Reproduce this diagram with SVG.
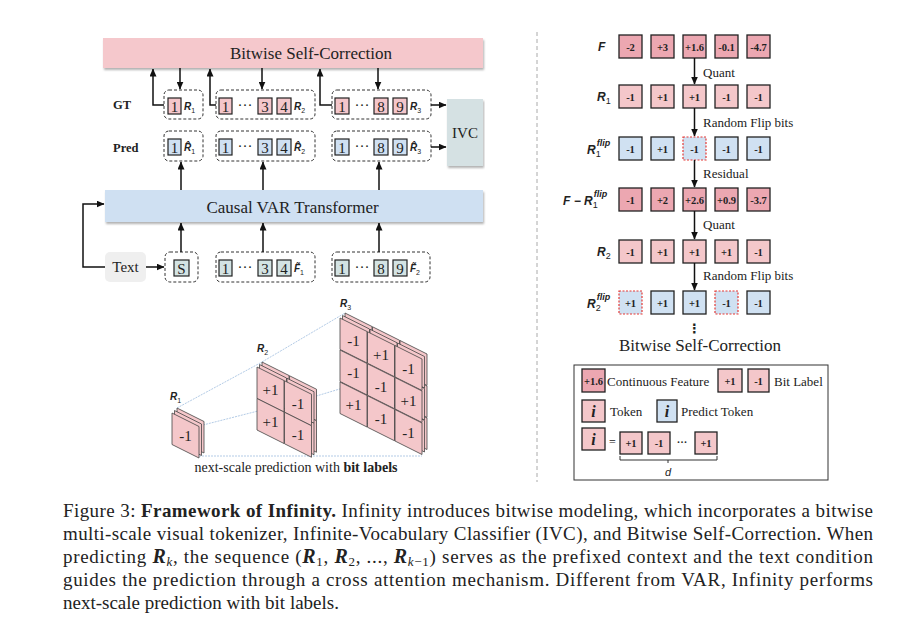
<svg xmlns="http://www.w3.org/2000/svg" width="923" height="636" viewBox="0 0 923 636">
<defs>
<marker id="ah" markerWidth="8" markerHeight="7" refX="7.5" refY="3.5" orient="auto" markerUnits="userSpaceOnUse"><path d="M0,0 L8,3.5 L0,7 z" fill="#111"/></marker>
<filter id="sh" x="-5%" y="-20%" width="110%" height="160%"><feDropShadow dx="1" dy="2" stdDeviation="1.2" flood-color="#000" flood-opacity="0.3"/></filter>
<path id="card" d="M0,0 L27,13.5 L27,45 L0,31.5 z"/>
<style>
.s{font-family:"Liberation Serif",serif;fill:#222}
.lab{font-family:"Liberation Sans",sans-serif;font-weight:bold;font-style:italic;fill:#222}
.sb{font-weight:normal;font-style:normal}
.bx{stroke:#222;stroke-width:1.2}
.gt{fill:#f4c6ca}
.pr{fill:#cfe0f2}
.tk{fill:#d3e3e3}
.grp{fill:none;stroke:#333;stroke-width:1;stroke-dasharray:3 2}
.arr{stroke:#111;stroke-width:1.5;fill:none;marker-end:url(#ah)}
.dg{font-family:"Liberation Serif",serif;font-size:15px;text-anchor:middle;fill:#222}
.fb{fill:#eca7b1;stroke:#222;stroke-width:1.3}
.rb{fill:#f4c7ca;stroke:#222;stroke-width:1.3}
.bb{fill:#d0e1f2;stroke:#222;stroke-width:1.3}
.fl{fill:#d0e1f2;stroke:#e53935;stroke-width:1.2;stroke-dasharray:2 1.5}
.v{font-family:"Liberation Serif",serif;font-weight:bold;font-size:10.5px;text-anchor:middle;fill:#222}
.cd{fill:#f4c7ca;stroke:#444;stroke-width:0.8}
.ct{font-family:"Liberation Serif",serif;font-size:15px;text-anchor:middle;fill:#222}
.dl{stroke:#b3cbe6;stroke-width:1;fill:none;stroke-dasharray:2 1}
.cap{font-family:"Liberation Serif",serif;font-size:19px;fill:#222}
</style>
</defs>
<rect width="923" height="636" fill="#fff"/>

<!-- separator -->
<line x1="537" y1="32" x2="537" y2="482" stroke="#aaa" stroke-width="1" stroke-dasharray="4 3"/>

<g id="bsc-bar">
<rect x="103" y="38" width="380" height="30" fill="#f5c8cc" filter="url(#sh)"/>
<text class="s" x="311" y="59" font-size="17" text-anchor="middle">Bitwise Self-Correction</text>
</g>
<g id="var-bar">
<rect x="105" y="190" width="378" height="32" fill="#cfe0f2" filter="url(#sh)"/>
<text class="s" x="292.5" y="213" font-size="17" text-anchor="middle">Causal VAR Transformer</text>
</g>
<g id="ivc">
<rect x="447" y="99" width="36" height="67" fill="#d5e1e3" filter="url(#sh)"/>
<text class="s" x="465" y="138" font-size="15" text-anchor="middle">IVC</text>
</g>
<g id="row-labels">
<text class="s" x="113" y="109" font-size="12.5" font-weight="bold">GT</text>
<text class="s" x="113" y="152" font-size="12.5" font-weight="bold">Pred</text>
</g>

<!-- GT row -->
<g id="gt1">
<rect class="grp" x="164" y="90" width="39" height="29" rx="5"/>
<rect class="bx gt" x="168" y="98" width="13" height="16"/><text class="dg" x="174.5" y="111.5">1</text>
<text class="lab" x="184" y="110" font-size="10">R<tspan class="sb" font-size="7" dy="2.5">1</tspan></text>
</g>
<g id="gt2">
<rect class="grp" x="216" y="90" width="99" height="29" rx="5"/>
<rect class="bx gt" x="219" y="98" width="13" height="16"/><text class="dg" x="225.5" y="111.5">1</text>
<text class="dg" x="245" y="110">···</text>
<rect class="bx gt" x="258" y="98" width="14" height="16"/><text class="dg" x="265" y="111.5">3</text>
<rect class="bx gt" x="277" y="98" width="14" height="16"/><text class="dg" x="284" y="111.5">4</text>
<text class="lab" x="294" y="110" font-size="10">R<tspan class="sb" font-size="7" dy="2.5">2</tspan></text>
</g>
<g id="gt3">
<rect class="grp" x="332" y="90" width="99" height="29" rx="5"/>
<rect class="bx gt" x="335" y="98" width="14" height="16"/><text class="dg" x="342" y="111.5">1</text>
<text class="dg" x="362" y="110">···</text>
<rect class="bx gt" x="374" y="98" width="14" height="16"/><text class="dg" x="381" y="111.5">8</text>
<rect class="bx gt" x="393" y="98" width="14" height="16"/><text class="dg" x="400" y="111.5">9</text>
<text class="lab" x="410" y="110" font-size="10">R<tspan class="sb" font-size="7" dy="2.5">3</tspan></text>
</g>

<!-- Pred row -->
<g id="pred1">
<rect class="grp" x="164" y="131" width="39" height="30" rx="5"/>
<rect class="bx pr" x="168" y="139" width="13" height="16"/><text class="dg" x="174.5" y="152.5">1</text>
<text class="lab" x="184" y="151" font-size="10">R̂<tspan class="sb" font-size="7" dy="2.5">1</tspan></text>
</g>
<g id="pred2">
<rect class="grp" x="216" y="131" width="99" height="30" rx="5"/>
<rect class="bx pr" x="219" y="139" width="13" height="16"/><text class="dg" x="225.5" y="152.5">1</text>
<text class="dg" x="245" y="151">···</text>
<rect class="bx pr" x="258" y="139" width="14" height="16"/><text class="dg" x="265" y="152.5">3</text>
<rect class="bx pr" x="277" y="139" width="14" height="16"/><text class="dg" x="284" y="152.5">4</text>
<text class="lab" x="294" y="151" font-size="10">R̂<tspan class="sb" font-size="7" dy="2.5">2</tspan></text>
</g>
<g id="pred3">
<rect class="grp" x="332" y="131" width="99" height="30" rx="5"/>
<rect class="bx pr" x="335" y="139" width="14" height="16"/><text class="dg" x="342" y="152.5">1</text>
<text class="dg" x="362" y="151">···</text>
<rect class="bx pr" x="374" y="139" width="14" height="16"/><text class="dg" x="381" y="152.5">8</text>
<rect class="bx pr" x="393" y="139" width="14" height="16"/><text class="dg" x="400" y="152.5">9</text>
<text class="lab" x="410" y="151" font-size="10">R̂<tspan class="sb" font-size="7" dy="2.5">3</tspan></text>
</g>

<!-- Input row -->
<g id="text-node">
<rect x="105" y="252" width="41" height="30" rx="5" fill="#efefef"/>
<text class="s" x="125.5" y="272" font-size="15" text-anchor="middle">Text</text>
</g>
<g id="start">
<rect class="grp" x="165" y="252" width="33" height="30" rx="5"/>
<rect class="bx tk" x="174" y="260" width="15" height="16"/><text class="dg" x="181.5" y="273.5">S</text>
</g>
<g id="f1">
<rect class="grp" x="216" y="252" width="99" height="30" rx="5"/>
<rect class="bx tk" x="219" y="260" width="13" height="16"/><text class="dg" x="225.5" y="273.5">1</text>
<text class="dg" x="245" y="272">···</text>
<rect class="bx tk" x="258" y="260" width="14" height="16"/><text class="dg" x="265" y="273.5">3</text>
<rect class="bx tk" x="277" y="260" width="14" height="16"/><text class="dg" x="284" y="273.5">4</text>
<text class="lab" x="294" y="272" font-size="10">F̃<tspan class="sb" font-size="7" dy="2.5">1</tspan></text>
</g>
<g id="f2">
<rect class="grp" x="332" y="252" width="98" height="30" rx="5"/>
<rect class="bx tk" x="335" y="260" width="14" height="16"/><text class="dg" x="342" y="273.5">1</text>
<text class="dg" x="362" y="272">···</text>
<rect class="bx tk" x="374" y="260" width="14" height="16"/><text class="dg" x="381" y="273.5">8</text>
<rect class="bx tk" x="393" y="260" width="14" height="16"/><text class="dg" x="400" y="273.5">9</text>
<text class="lab" x="410" y="272" font-size="10">F̃<tspan class="sb" font-size="7" dy="2.5">2</tspan></text>
</g>

<!-- connectors left -->
<g id="connectors-left">
<line class="arr" x1="180" y1="68" x2="180" y2="89"/>
<line class="arr" x1="262" y1="68" x2="262" y2="89"/>
<line class="arr" x1="378" y1="68" x2="378" y2="89"/>
<path class="arr" d="M164,105 H153 V69"/>
<path class="arr" d="M216,105 H210 V69"/>
<path class="arr" d="M332,105 H320 V69"/>
<line class="arr" x1="181" y1="190" x2="181" y2="162"/>
<line class="arr" x1="263" y1="190" x2="263" y2="162"/>
<line class="arr" x1="379" y1="190" x2="379" y2="162"/>
<line class="arr" x1="181" y1="252" x2="181" y2="223"/>
<line class="arr" x1="263" y1="252" x2="263" y2="223"/>
<line class="arr" x1="379" y1="252" x2="379" y2="223"/>
<line class="arr" x1="146" y1="267" x2="164" y2="267"/>
<path class="arr" d="M105,267 H83 V204 H104"/>
<line class="arr" x1="431" y1="105" x2="446" y2="105"/>
<line class="arr" x1="431" y1="147" x2="446" y2="147"/>
</g>

<!-- 3D multi-scale stacks -->
<g id="scale-links">
<line class="dl" x1="177" y1="408" x2="262" y2="362"/>
<line class="dl" x1="262" y1="362" x2="345" y2="313"/>
<line class="dl" x1="203" y1="425" x2="313" y2="397"/>
<line class="dl" x1="313" y1="397" x2="423" y2="364"/>
<line class="dl" x1="199" y1="456" x2="422" y2="456"/>
</g>
<g id="scale-R1">
<text class="lab" x="170" y="400" font-size="10">R<tspan class="sb" font-size="7" dy="2.5">1</tspan></text>
<use href="#card" class="cd" x="177" y="408"/>
<use href="#card" class="cd" x="174.5" y="410.5"/>
<use href="#card" class="cd" x="172" y="413"/>
<text class="ct" x="185.5" y="441">-1</text>
</g>
<g id="scale-R2">
<text class="lab" x="257" y="352" font-size="10">R<tspan class="sb" font-size="7" dy="2.5">2</tspan></text>
<use href="#card" class="cd" x="262" y="362"/>
<use href="#card" class="cd" x="289.5" y="375.75"/>
<use href="#card" class="cd" x="262" y="393.5"/>
<use href="#card" class="cd" x="289.5" y="407.25"/>
<use href="#card" class="cd" x="259.5" y="364.5"/>
<use href="#card" class="cd" x="287" y="378.25"/>
<use href="#card" class="cd" x="259.5" y="396"/>
<use href="#card" class="cd" x="287" y="409.75"/>
<use href="#card" class="cd" x="257" y="367"/>
<use href="#card" class="cd" x="284.5" y="380.75"/>
<use href="#card" class="cd" x="257" y="398.5"/>
<use href="#card" class="cd" x="284.5" y="412.25"/>
<text class="ct" x="270.5" y="395">+1</text>
<text class="ct" x="298" y="408.5">-1</text>
<text class="ct" x="270.5" y="426.5">+1</text>
<text class="ct" x="298" y="440">-1</text>
</g>
<g id="scale-R3">
<text class="lab" x="340" y="307" font-size="10">R<tspan class="sb" font-size="7" dy="2.5">3</tspan></text>
<use href="#card" class="cd" x="345" y="313"/>
<use href="#card" class="cd" x="372.5" y="326.75"/>
<use href="#card" class="cd" x="400" y="340.5"/>
<use href="#card" class="cd" x="345" y="345"/>
<use href="#card" class="cd" x="372.5" y="358.75"/>
<use href="#card" class="cd" x="400" y="372.5"/>
<use href="#card" class="cd" x="345" y="377"/>
<use href="#card" class="cd" x="372.5" y="390.75"/>
<use href="#card" class="cd" x="400" y="404.5"/>
<use href="#card" class="cd" x="342.5" y="315.5"/>
<use href="#card" class="cd" x="370" y="329.25"/>
<use href="#card" class="cd" x="397.5" y="343"/>
<use href="#card" class="cd" x="342.5" y="347.5"/>
<use href="#card" class="cd" x="370" y="361.25"/>
<use href="#card" class="cd" x="397.5" y="375"/>
<use href="#card" class="cd" x="342.5" y="379.5"/>
<use href="#card" class="cd" x="370" y="393.25"/>
<use href="#card" class="cd" x="397.5" y="407"/>
<use href="#card" class="cd" x="340" y="318"/>
<use href="#card" class="cd" x="367.5" y="331.75"/>
<use href="#card" class="cd" x="395" y="345.5"/>
<use href="#card" class="cd" x="340" y="350"/>
<use href="#card" class="cd" x="367.5" y="363.75"/>
<use href="#card" class="cd" x="395" y="377.5"/>
<use href="#card" class="cd" x="340" y="382"/>
<use href="#card" class="cd" x="367.5" y="395.75"/>
<use href="#card" class="cd" x="395" y="409.5"/>
<text class="ct" x="353.5" y="346">-1</text>
<text class="ct" x="381" y="359.75">+1</text>
<text class="ct" x="408.5" y="373.5">-1</text>
<text class="ct" x="353.5" y="378">-1</text>
<text class="ct" x="381" y="391.75">-1</text>
<text class="ct" x="408.5" y="405.5">+1</text>
<text class="ct" x="353.5" y="410">+1</text>
<text class="ct" x="381" y="423.75">-1</text>
<text class="ct" x="408.5" y="437.5">-1</text>
</g>
<text class="s" x="296" y="472" font-size="14" text-anchor="middle">next-scale prediction with <tspan font-weight="bold">bit labels</tspan></text>

<!-- Right panel -->
<g id="row-F">
<text class="lab" x="598" y="51" font-size="12">F</text>
<rect class="fb" x="619" y="35" width="23" height="23"/><text class="v" x="630.5" y="50.5">-2</text>
<rect class="fb" x="651" y="35" width="23" height="23"/><text class="v" x="662.5" y="50.5">+3</text>
<rect class="fb" x="683" y="35" width="23" height="23"/><text class="v" x="694.5" y="50.5">+1.6</text>
<rect class="fb" x="715" y="35" width="23" height="23"/><text class="v" x="726.5" y="50.5">-0.1</text>
<rect class="fb" x="747" y="35" width="23" height="23"/><text class="v" x="758.5" y="50.5">-4.7</text>
</g>
<g id="row-R1">
<text class="lab" x="597" y="101" font-size="12">R<tspan class="sb" font-size="9" dy="2.5">1</tspan></text>
<rect class="rb" x="619" y="85" width="23" height="23"/><text class="v" x="630.5" y="100.5">-1</text>
<rect class="rb" x="651" y="85" width="23" height="23"/><text class="v" x="662.5" y="100.5">+1</text>
<rect class="rb" x="683" y="85" width="23" height="23"/><text class="v" x="694.5" y="100.5">+1</text>
<rect class="rb" x="715" y="85" width="23" height="23"/><text class="v" x="726.5" y="100.5">-1</text>
<rect class="rb" x="747" y="85" width="23" height="23"/><text class="v" x="758.5" y="100.5">-1</text>
</g>
<g id="row-R1flip">
<text class="lab" x="587" y="154" font-size="12">R<tspan class="sb" font-size="9" dy="3">1</tspan><tspan font-size="9" dx="-4" dy="-11">flip</tspan></text>
<rect class="bb" x="619" y="137" width="23" height="23"/><text class="v" x="630.5" y="152.5">-1</text>
<rect class="bb" x="651" y="137" width="23" height="23"/><text class="v" x="662.5" y="152.5">+1</text>
<rect class="fl" x="683" y="137" width="23" height="23"/><text class="v" x="694.5" y="152.5">-1</text>
<rect class="bb" x="715" y="137" width="23" height="23"/><text class="v" x="726.5" y="152.5">-1</text>
<rect class="bb" x="747" y="137" width="23" height="23"/><text class="v" x="758.5" y="152.5">-1</text>
</g>
<g id="row-residual">
<text class="lab" x="563" y="205" font-size="12">F − R<tspan class="sb" font-size="9" dy="3">1</tspan><tspan font-size="9" dx="-4" dy="-11">flip</tspan></text>
<rect class="fb" x="619" y="188" width="23" height="23"/><text class="v" x="630.5" y="203.5">-1</text>
<rect class="fb" x="651" y="188" width="23" height="23"/><text class="v" x="662.5" y="203.5">+2</text>
<rect class="fb" x="683" y="188" width="23" height="23"/><text class="v" x="694.5" y="203.5">+2.6</text>
<rect class="fb" x="715" y="188" width="23" height="23"/><text class="v" x="726.5" y="203.5">+0.9</text>
<rect class="fb" x="747" y="188" width="23" height="23"/><text class="v" x="758.5" y="203.5">-3.7</text>
</g>
<g id="row-R2">
<text class="lab" x="597" y="256" font-size="12">R<tspan class="sb" font-size="9" dy="2.5">2</tspan></text>
<rect class="rb" x="619" y="240" width="23" height="23"/><text class="v" x="630.5" y="255.5">-1</text>
<rect class="rb" x="651" y="240" width="23" height="23"/><text class="v" x="662.5" y="255.5">+1</text>
<rect class="rb" x="683" y="240" width="23" height="23"/><text class="v" x="694.5" y="255.5">+1</text>
<rect class="rb" x="715" y="240" width="23" height="23"/><text class="v" x="726.5" y="255.5">+1</text>
<rect class="rb" x="747" y="240" width="23" height="23"/><text class="v" x="758.5" y="255.5">-1</text>
</g>
<g id="row-R2flip">
<text class="lab" x="587" y="308" font-size="12">R<tspan class="sb" font-size="9" dy="3">2</tspan><tspan font-size="9" dx="-4" dy="-11">flip</tspan></text>
<rect class="fl" x="619" y="291" width="23" height="23"/><text class="v" x="630.5" y="306.5">+1</text>
<rect class="bb" x="651" y="291" width="23" height="23"/><text class="v" x="662.5" y="306.5">+1</text>
<rect class="bb" x="683" y="291" width="23" height="23"/><text class="v" x="694.5" y="306.5">+1</text>
<rect class="fl" x="715" y="291" width="23" height="23"/><text class="v" x="726.5" y="306.5">-1</text>
<rect class="bb" x="747" y="291" width="23" height="23"/><text class="v" x="758.5" y="306.5">-1</text>
</g>
<g id="connectors-right">
<line class="arr" x1="694.5" y1="58" x2="694.5" y2="84"/>
<line class="arr" x1="694.5" y1="108" x2="694.5" y2="136"/>
<line class="arr" x1="694.5" y1="160" x2="694.5" y2="187"/>
<line class="arr" x1="694.5" y1="211" x2="694.5" y2="239"/>
<line class="arr" x1="694.5" y1="263" x2="694.5" y2="290"/>
</g>
<g id="step-labels">
<text class="s" x="703" y="77" font-size="13">Quant</text>
<text class="s" x="703" y="127" font-size="13">Random Flip bits</text>
<text class="s" x="703" y="178" font-size="13">Residual</text>
<text class="s" x="703" y="229" font-size="13">Quant</text>
<text class="s" x="703" y="280" font-size="13">Random Flip bits</text>
<text x="694.5" y="333" font-family="DejaVu Sans, sans-serif" font-size="13" font-weight="bold" text-anchor="middle" fill="#222">⋮</text>
<text class="s" x="700" y="351" font-size="17" text-anchor="middle">Bitwise Self-Correction</text>
</g>

<!-- Legend -->
<g id="legend">
<rect x="574" y="365" width="254" height="115" fill="none" stroke="#333" stroke-width="1"/>
<rect class="fb" x="582" y="369" width="23" height="23"/><text class="v" x="593.5" y="384.5">+1.6</text>
<text class="s" x="607" y="386" font-size="13">Continuous Feature</text>
<rect class="rb" x="718" y="369" width="24" height="23"/><text class="v" x="730" y="384.5">+1</text>
<rect class="rb" x="748" y="369" width="21" height="23"/><text class="v" x="758.5" y="384.5">-1</text>
<text class="s" x="774" y="386" font-size="13">Bit Label</text>
<rect class="rb" x="582" y="400" width="23" height="22"/><text class="s" x="593.5" y="417" font-size="16" font-weight="bold" font-style="italic" text-anchor="middle">i</text>
<text class="s" x="610" y="416" font-size="13">Token</text>
<rect class="bb" x="657" y="400" width="20" height="22"/><text class="s" x="667" y="417" font-size="16" font-weight="bold" font-style="italic" text-anchor="middle">i</text>
<text class="s" x="681" y="416" font-size="13">Predict Token</text>
<rect class="rb" x="582" y="428" width="23" height="22"/><text class="s" x="593.5" y="445" font-size="16" font-weight="bold" font-style="italic" text-anchor="middle">i</text>
<text class="s" x="612.5" y="446" font-size="12" text-anchor="middle">=</text>
<rect class="rb" x="620" y="432" width="22" height="22"/><text class="v" x="631" y="447">+1</text>
<rect class="rb" x="648" y="432" width="22" height="22"/><text class="v" x="659" y="447">-1</text>
<text class="v" x="682" y="446">···</text>
<rect class="rb" x="695" y="432" width="22" height="22"/><text class="v" x="706" y="447">+1</text>
<path d="M620,456 V460 H717 V456 M668,460 V463" fill="none" stroke="#333" stroke-width="1"/>
<text x="668" y="476" font-family="Liberation Sans, sans-serif" font-style="italic" font-size="11" text-anchor="middle" fill="#222">d</text>
</g>

<!-- Caption -->
<g id="caption">
<text class="cap" x="63" y="517" textLength="810" lengthAdjust="spacing">Figure 3: <tspan font-weight="bold">Framework of Infinity.</tspan> Infinity introduces bitwise modeling, which incorporates a bitwise</text>
<text class="cap" x="63" y="540" textLength="810" lengthAdjust="spacing">multi-scale visual tokenizer, Infinite-Vocabulary Classifier (IVC), and Bitwise Self-Correction. When</text>
<text class="cap" x="63" y="563" textLength="810" lengthAdjust="spacing">predicting <tspan font-weight="bold" font-style="italic" font-size="20">R</tspan><tspan font-style="italic" font-size="13" dy="3">k</tspan><tspan dy="-3">, the sequence (</tspan><tspan font-weight="bold" font-style="italic" font-size="20">R</tspan><tspan font-size="13" dy="3">1</tspan><tspan dy="-3">, </tspan><tspan font-weight="bold" font-style="italic" font-size="20">R</tspan><tspan font-size="13" dy="3">2</tspan><tspan dy="-3">, ..., </tspan><tspan font-weight="bold" font-style="italic" font-size="20">R</tspan><tspan font-style="italic" font-size="13" dy="3">k</tspan><tspan font-size="13">−1</tspan><tspan dy="-3">) serves as the prefixed context and the text condition</tspan></text>
<text class="cap" x="63" y="586" textLength="810" lengthAdjust="spacing">guides the prediction through a cross attention mechanism. Different from VAR, Infinity performs</text>
<text class="cap" x="63" y="609">next-scale prediction with bit labels.</text>
</g>
</svg>
